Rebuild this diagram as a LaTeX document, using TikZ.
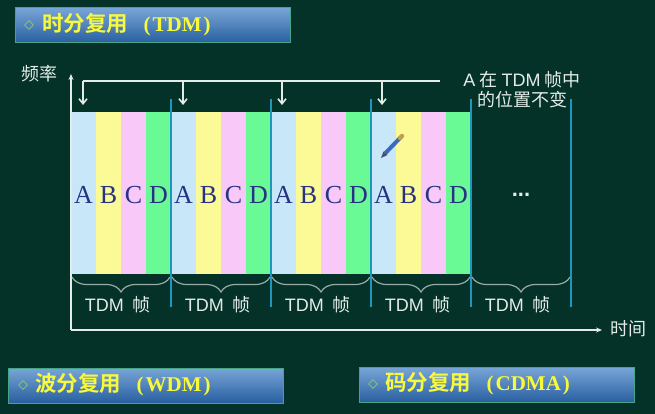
\documentclass[tikz,border=0pt]{standalone}
\usepackage{fontspec}
\setmainfont{Liberation Sans}
\newfontfamily\cjk{Noto Sans CJK SC}
\newfontfamily\cjkbold{Noto Sans CJK SC Bold}
\newfontfamily\serifbold{Liberation Serif Bold}
\newfontfamily\seriffont{Liberation Serif}
\usetikzlibrary{arrows.meta,decorations.pathreplacing,shapes.geometric}
\definecolor{board}{RGB}{4,50,40}
\definecolor{slotA}{RGB}{200,232,250}
\definecolor{slotB}{RGB}{252,250,150}
\definecolor{slotC}{RGB}{248,200,248}
\definecolor{slotD}{RGB}{105,250,150}
\definecolor{frameline}{RGB}{30,150,190}
\definecolor{chalk}{RGB}{228,236,232}
\definecolor{slotletter}{RGB}{40,50,130}
\definecolor{titletop}{RGB}{120,165,215}
\definecolor{titlebot}{RGB}{40,95,160}
\definecolor{titleedge}{RGB}{70,165,135}
\definecolor{titletext}{RGB}{248,248,60}
\definecolor{pencilbody}{RGB}{60,105,190}
\definecolor{pencilend}{RGB}{195,160,70}
\definecolor{penciltip}{RGB}{70,80,110}
\newcommand{\titlelatin}[1]{\hspace{0.72em}{\serifbold\fontsize{21}{21}\selectfont (\hspace{2pt}#1\hspace{2pt})}}
\tikzset{
  titlebar/.style={draw=titleedge,line width=1pt,top color=titletop,bottom color=titlebot,
    minimum width=275pt,minimum height=35pt,inner sep=0pt},
  titletxt/.style={text=titletext,font=\fontsize{21.5}{22}\selectfont\cjkbold,anchor=west,inner sep=0pt},
  mark diamond/.style={diamond,draw=titleedge!60!titletext,line width=0.8pt,minimum width=9pt,minimum height=9pt,inner sep=0pt,anchor=center},
  chalktxt/.style={text=chalk,font=\fontsize{18}{20}\selectfont\cjk,inner sep=0pt},
  slotltr/.style={text=slotletter,font=\fontsize{26}{26}\selectfont\seriffont,inner sep=0pt},
  chalkline/.style={draw=chalk,line width=1.8pt},
  axisline/.style={draw=chalk,line width=2pt,-{Stealth[length=6pt,width=5pt]}},
  downarrow/.style={draw=chalk,line width=1.6pt,-{Straight Barb[length=5pt,width=8pt]}},
  frameedge/.style={draw=frameline,line width=1.8pt},
  framebrace/.style={draw=chalk!65!board,line width=1.2pt,decorate,decoration={brace,mirror,amplitude=15pt}}
}
\begin{document}
\begin{tikzpicture}[x=1pt,y=-1pt]
  \useasboundingbox (0,0) rectangle (655,414);
  \fill[board] (0,0) rectangle (655,414);
  % title bars
  \node[titlebar] (tdmbar) at (152.5,25.5) {};
  \node[titlebar] (wdmbar) at (145.5,385.5) {};
  \node[titlebar] (cdmabar) at (496.5,385) {};
  \node[mark diamond] (tdmmark) at (29,25) {};
  \node[mark diamond] (wdmmark) at (23,385) {};
  \node[mark diamond] (cdmamark) at (373,384) {};
  \node[titletxt] (tdmtxt) at (42,25) {时分复用\titlelatin{TDM}};
  \node[titletxt] (wdmtxt) at (35,385) {波分复用\titlelatin{WDM}};
  \node[titletxt] (cdmatxt) at (385,384) {码分复用\titlelatin{CDMA}};
  % time slots
  \foreach \f in {0,1,2,3} {
    \foreach \s/\ltr/\col in {0/A/slotA,1/B/slotB,2/C/slotC,3/D/slotD} {
      \fill[\col] ({71+100*\f+25*\s},112) rectangle ({96+100*\f+25*\s},274);
      \node[slotltr] (s\ltr\f) at ({83.5+100*\f+25*\s},195) {\ltr};
    }
  }
  \node[text=chalk,font=\fontsize{22}{22}\selectfont\bfseries,inner sep=0pt] (dots) at (521,195) {...};
  % axes
  \coordinate (origin) at (71,330);
  \coordinate (freqend) at (71,74);
  \coordinate (timeend) at (602,330);
  \draw[axisline] (origin) -- (freqend);
  \draw[axisline] (origin) -- (timeend);
  \node[chalktxt] (freq) at (39,74) {频率};
  \node[chalktxt] (time) at (628,329) {时间};
  % frame edges and braces
  \foreach \f in {1,...,5} {
    \coordinate (top\f) at ({71+100*\f},99);
    \coordinate (bot\f) at ({71+100*\f},307);
    \draw[frameedge] (top\f) -- (bot\f);
  }
  \foreach \f in {0,...,4} {
    \coordinate (bl\f) at ({72+100*\f},277);
    \coordinate (br\f) at ({170+100*\f},277);
    \draw[framebrace] (bl\f) -- (br\f);
    \node[chalktxt] (frame\f) at ({117.5+100*\f},305) {{\rmfamily TDM}\hspace{0.45em}帧};
  }
  % A keeps its place
  \coordinate (busl) at (83,81);
  \coordinate (busr) at (440,81);
  \draw[chalkline] (busl) -- (busr);
  \foreach \x/\n in {83/0,183/1,282/2,382/3} {
    \coordinate (dropt\n) at (\x,81);
    \coordinate (drope\n) at (\x,105);
    \draw[downarrow] (dropt\n) -- (drope\n);
  }
  \node[chalktxt,align=center] (note) at (522,90)
    {{\rmfamily A} 在 {\rmfamily TDM} 帧中\\的位置不变};
  % pencil
  \draw[line width=4pt,pencilbody] (385.5,153) -- (400,138);
  \fill[penciltip] (381,158) -- (383.5,151.5) -- (387.5,155) -- cycle;
  \draw[line width=4.5pt,pencilend,line cap=round] (400,138) -- (402,136);
\end{tikzpicture}
\end{document}
